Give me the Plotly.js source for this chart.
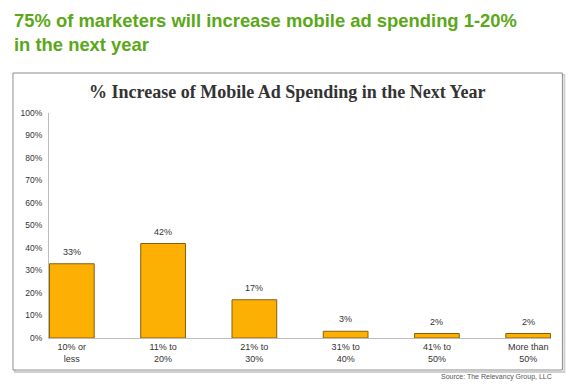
<!DOCTYPE html>
<html>
<head>
<meta charset="utf-8">
<script src="https://cdn.plot.ly/plotly-3.0.1.min.js"></script>
<style>html,body{margin:0;padding:0;background:#fff;}#chart{width:580px;height:386px;}</style>
</head>
<body>
<div id="chart"></div>
<script>
const categories = ["10% or<br>less", "11% to<br>20%", "21% to<br>30%", "31% to<br>40%", "41% to<br>50%", "More than<br>50%"];
const values = [33, 42, 17, 3, 2, 2];
const valueLabels = ["33%", "42%", "17%", "3%", "2%", "2%"];
const yTickVals = [0, 10, 20, 30, 40, 50, 60, 70, 80, 90, 100];
const yTickText = ["0%", "10%", "20%", "30%", "40%", "50%", "60%", "70%", "80%", "90%", "100%"];

const W = 580, H = 386;
const L = 49, R = 29.4, T = 113, B = 48;
const pw = W - L - R, ph = H - T - B;
const px = x => (x - L) / pw;
const py = y => (H - B - y) / ph;

const trace = {
  type: "bar",
  x: categories.map((c, i) => i),
  y: values,
  marker: {color: "#FDB004", line: {color: "#8a5e08", width: 1}},
  hoverinfo: "none"
};

const annotations = values.map((v, i) => ({
  x: i, y: v, xref: "x", yref: "y", text: valueLabels[i], showarrow: false,
  yanchor: "bottom", yshift: 5,
  font: {family: "Arial, Liberation Sans, sans-serif", size: 9, color: "#333"}
}));

annotations.push({
  xref: "paper", yref: "paper", x: px(12), y: py(8), xanchor: "left", yanchor: "top", align: "left",
  text: "75% of marketers will increase mobile ad spending 1-20%<br>in the next year", showarrow: false,
  font: {family: "Liberation Sans, Arial, sans-serif", size: 18.4, color: "#5aa817", weight: "bold"}
});
annotations.push({
  xref: "paper", yref: "paper", x: px(287), y: py(92), xanchor: "center", yanchor: "middle",
  text: "% Increase of Mobile Ad Spending in the Next Year", showarrow: false,
  font: {family: "Liberation Serif, serif", size: 18, color: "#333", weight: "bold"}
});
annotations.push({
  xref: "paper", yref: "paper", x: px(554), y: py(377), xanchor: "right", yanchor: "middle",
  text: "Source: The Relevancy Group, LLC", showarrow: false,
  font: {family: "Liberation Sans, Arial, sans-serif", size: 7, color: "#555"}
});

const shapes = [
  {type: "rect", xref: "paper", yref: "paper", x0: px(15), x1: px(564), y0: py(75), y1: py(372),
   line: {color: "#d0d0d0", width: 2}, fillcolor: "rgba(0,0,0,0)", layer: "below"},
  {type: "rect", xref: "paper", yref: "paper", x0: px(13), x1: px(562), y0: py(73), y1: py(370),
   line: {color: "#8c8c8c", width: 1}, fillcolor: "#ffffff", layer: "below"}
];

const layout = {
  width: W, height: H,
  margin: {l: L, r: R, t: T, b: B, pad: 0},
  paper_bgcolor: "#fff", plot_bgcolor: "rgba(0,0,0,0)",
  showlegend: false,
  bargap: 0.51,
  xaxis: {
    range: [-0.25, 5.25], tickvals: categories.map((c, i) => i), ticktext: categories,
    showgrid: false, zeroline: false, showline: true, linecolor: "#bdbdbd", linewidth: 1,
    ticks: "", tickfont: {family: "Arial, Liberation Sans, sans-serif", size: 9, color: "#333"},
    fixedrange: true
  },
  yaxis: {
    range: [0, 100], tickvals: yTickVals, ticktext: yTickText,
    showgrid: false, zeroline: false, showline: true, linecolor: "#bdbdbd", linewidth: 1,
    ticks: "", ticklabelstandoff: 4,
    tickfont: {family: "Arial, Liberation Sans, sans-serif", size: 8.5, color: "#333"},
    fixedrange: true
  },
  annotations: annotations,
  shapes: shapes
};

Plotly.newPlot("chart", [trace], layout, {displayModeBar: false, staticPlot: true});
</script>
</body>
</html>
